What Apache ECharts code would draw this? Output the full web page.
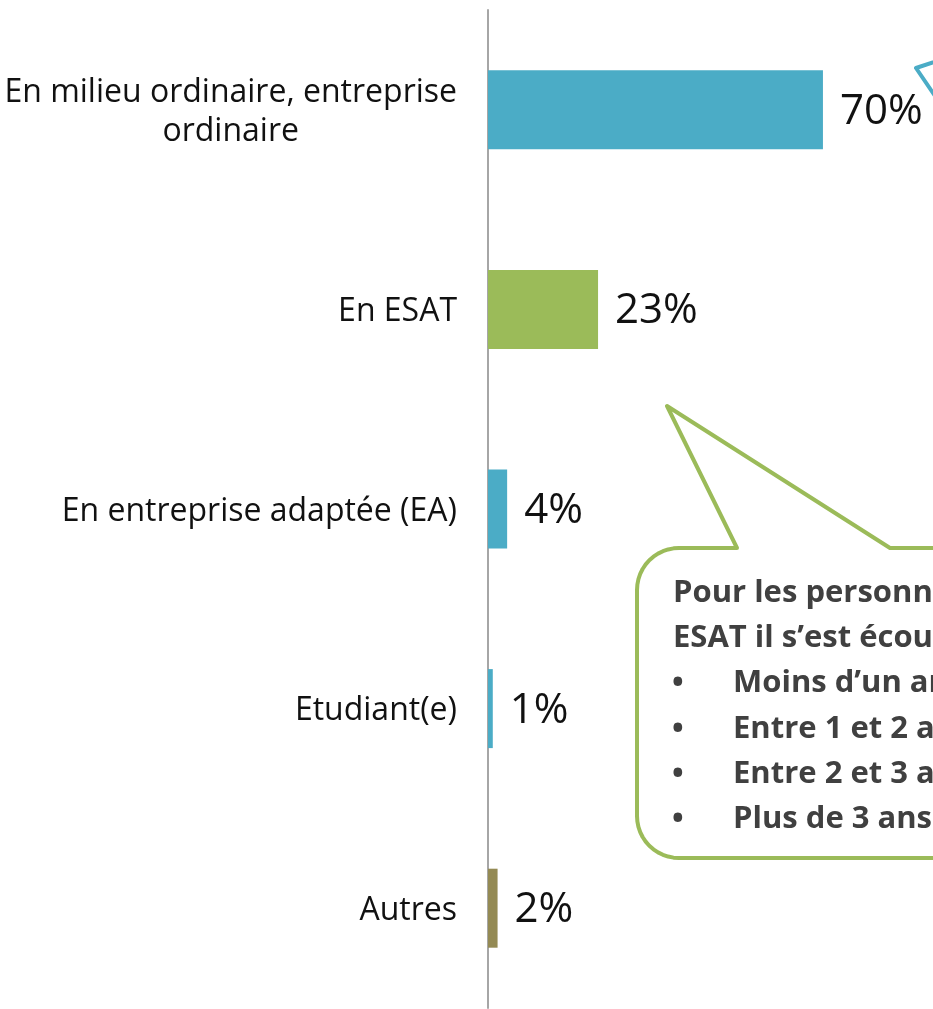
<!DOCTYPE html>
<html>
<head>
<meta charset="utf-8">
<script src="https://cdn.jsdelivr.net/npm/echarts@6/dist/echarts.min.js"></script>
<style>
  html, body { margin: 0; padding: 0; background: #ffffff; }
  #chart { width: 933px; height: 1009px; }
</style>
</head>
<body>
<div id="chart"></div>
<script>
// Situation professionnelle des répondants (en %)
const categories = [
  'En milieu ordinaire, entreprise\nordinaire',
  'En ESAT',
  'En entreprise adaptée (EA)',
  'Etudiant(e)',
  'Autres'
];
const values = [70, 23, 4, 1, 2];
const barColors = ['#4BACC6', '#9BBB59', '#4BACC6', '#4BACC6', '#948A54'];

// Texte de la bulle ESAT
const calloutIntro = ['Pour les personnes en', 'ESAT il s\u2019est écoulé :'];
const calloutItems = ['Moins d\u2019un an', 'Entre 1 et 2 ans', 'Entre 2 et 3 ans', 'Plus de 3 ans'];

const chart = echarts.init(document.getElementById('chart'), null, { renderer: 'canvas' });

const labelFont = '"Open Sans", "DejaVu Sans", sans-serif';
const calloutFont = '"Open Sans", "Noto Sans", sans-serif';

// Quarter-circle corner points for the speech bubble outline
function corner(cx, cy, r, a0, a1) {
  const pts = [];
  const n = 12;
  for (let k = 0; k <= n; k++) {
    const a = a0 + (a1 - a0) * k / n;
    pts.push([cx + r * Math.cos(a), cy + r * Math.sin(a)]);
  }
  return pts;
}

// Green bubble: rounded box with a pointer toward the ESAT bar
const green = '#9BBB59';
const R = 42;
const bubble = []
  .concat(corner(637 + R, 548 + R, R, Math.PI, Math.PI * 1.5))
  .concat([[737, 548], [667, 406], [890, 548], [1100, 548], [1100, 858]])
  .concat(corner(637 + R, 858 - R, R, Math.PI * 0.5, Math.PI));

const textStyle = { font: 'bold 31px ' + calloutFont, fill: '#404040', verticalAlign: 'middle' };
const lineY = i => 593 + i * 45.3;
const calloutText = [];
calloutIntro.forEach((t, i) => {
  calloutText.push({ type: 'text', x: 673, y: lineY(i), style: Object.assign({ text: t }, textStyle) });
});
calloutItems.forEach((t, i) => {
  calloutText.push({ type: 'text', x: 672, y: lineY(i + 2), style: Object.assign({ text: '\u2022' }, textStyle) });
  calloutText.push({ type: 'text', x: 733, y: lineY(i + 2), style: Object.assign({ text: t }, textStyle) });
});

chart.setOption({
  animation: false,
  backgroundColor: '#ffffff',
  grid: { left: 488, top: 10, right: 0, height: 998, containLabel: false },
  xAxis: {
    type: 'value', min: 0, max: 93,
    show: false
  },
  yAxis: {
    type: 'category',
    data: categories,
    inverse: true,
    axisLine: { show: true, lineStyle: { color: '#A6A6A6', width: 2 } },
    axisTick: { show: false },
    splitLine: { show: false },
    axisLabel: {
      margin: 31,
      padding: [5, 0, 0, 0],
      formatter: v => '{c|' + v.split('\n').join('}\n{c|') + '}',
      rich: {
        c: {
          fontFamily: labelFont, fontSize: 32, color: '#111111',
          lineHeight: 39, align: 'center'
        }
      }
    }
  },
  series: [{
    type: 'bar',
    data: values.map((v, i) => ({ value: v, itemStyle: { color: barColors[i] } })),
    barWidth: 79,
    label: {
      show: true, position: 'right', distance: 17, offset: [0, 2],
      formatter: '{c}%',
      fontFamily: labelFont, fontSize: 42, color: '#111111'
    }
  }],
  graphic: [
    {
      type: 'polygon',
      shape: { points: bubble },
      style: { fill: '#ffffff', stroke: green, lineWidth: 4, lineJoin: 'round' },
      z: 10
    },
    {
      type: 'polyline',
      shape: { points: [[970, 50], [916, 68], [950, 118]] },
      style: { fill: null, stroke: '#4BACC6', lineWidth: 4, lineJoin: 'round' },
      z: 10
    }
  ].concat(calloutText.map(t => Object.assign({ z: 11 }, t)))
});
</script>
</body>
</html>
